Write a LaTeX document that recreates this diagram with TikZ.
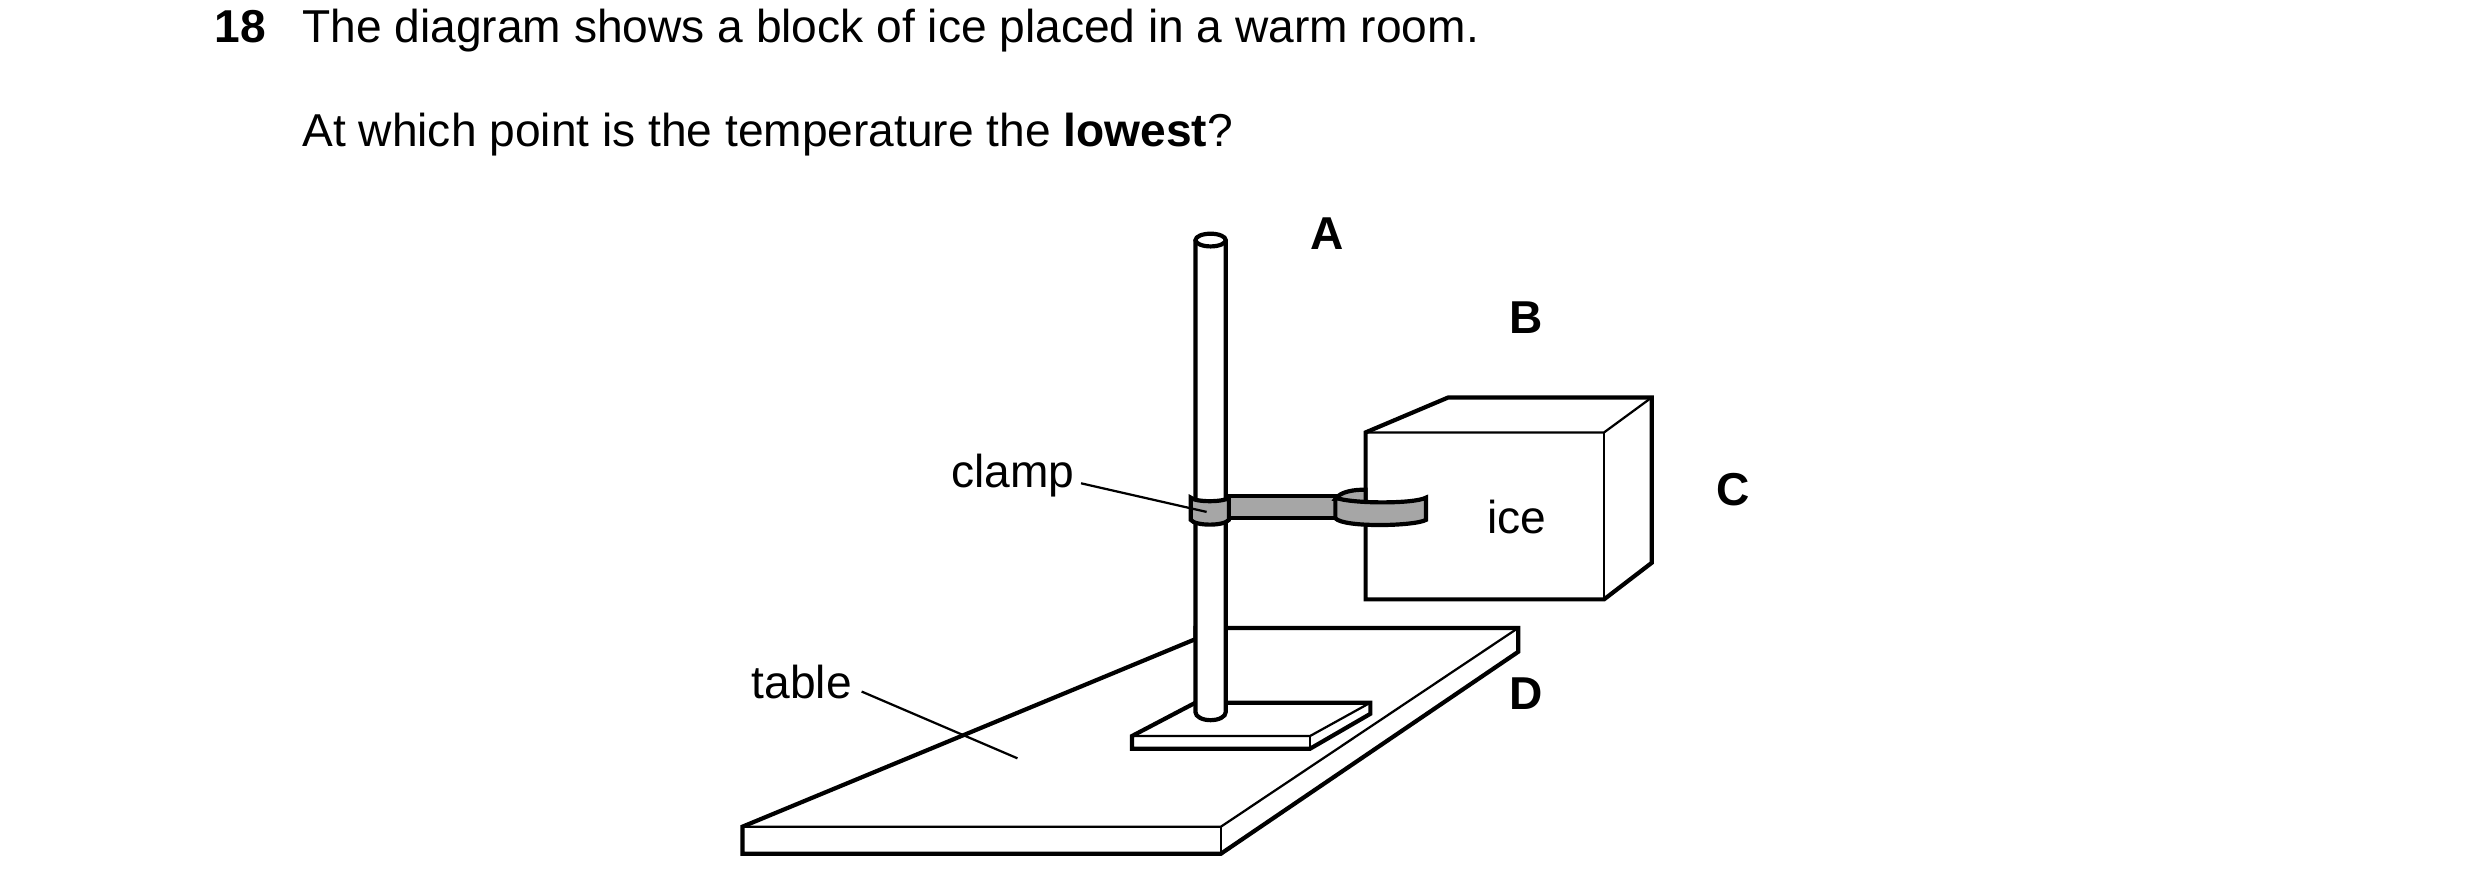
\documentclass[tikz,border=0pt]{standalone}
\usepackage{fontspec}
\setmainfont{Liberation Sans}
\tikzset{
  thick line/.style={line width=0.75pt, line join=miter},
  thin line/.style={line width=0.4pt},
  label text/.style={inner sep=1pt, font=\fontsize{8.25}{10}\selectfont},
  point/.style={inner sep=1pt, font=\fontsize{8.25}{10}\selectfont\bfseries},
  clamp part/.style={thick line, fill=black!35}
}
\begin{document}
\begin{tikzpicture}[x=0.01cm, y=-0.01cm]
    \useasboundingbox (0,0) rectangle (1560,560);

    % Question text
    \node[point, anchor=base west] (num) at (131,27) {18};
    \node[label text, anchor=base west] (line1) at (186,27) {The diagram shows a block of ice placed in a warm room.};
    \node[label text, anchor=base west] (line2) at (186,92) {At which point is the temperature the \textbf{lowest}?};

    % Table
    \draw[thick line, fill=white] (467,520) -- (752,402) -- (752,395) -- (955,395) -- (955,410) -- (768,537) -- (467,537) -- cycle;
    \draw[thin line] (467,520) -- (768,520) -- (955,395);
    \draw[thin line] (768,520) -- (768,537);

    % Base plate
    \draw[thick line, fill=white] (712,463) -- (752,442) -- (862,442) -- (862,449) -- (824,471) -- (712,471) -- cycle;
    \draw[thin line] (712,463) -- (824,463) -- (862,442);
    \draw[thin line] (824,463) -- (824,471);

    % Rod
    \draw[thick line, fill=white] (752,151) -- (752,448) arc[start angle=180, end angle=0, x radius=9.5, y radius=5] -- (771,151);
    \draw[thick line, fill=white] (761.5,151) ellipse[x radius=9.5, y radius=4];

    % Ice block
    \draw[thick line, fill=white] (859,272) -- (911,250) -- (1039,250) -- (1039,354) -- (1009,377) -- (859,377) -- cycle;
    \draw[thin line] (859,272) -- (1009,272) -- (1039,250);
    \draw[thin line] (1009,272) -- (1009,377);

    % Clamp
    \draw[clamp part] (773,312) rectangle (842,326);
    \draw[clamp part] (749,313) -- (749,327) .. controls (752,331) and (770,331) .. (773,327) -- (773,313) .. controls (770,316) and (752,316) .. (749,313) -- cycle;
    \draw[clamp part] (840,314) .. controls (843,309) and (852,308) .. (859,308) -- (859,317) -- cycle;
    \draw[clamp part] (840,313) -- (840,326) .. controls (845,332) and (890,331) .. (897,327) -- (897,313) .. controls (890,317) and (850,317) .. (840,313) -- cycle;

    % Labels
    \node[label text] (ice) at (954,325) {ice};
    \node[label text, anchor=east] (clamp) at (680,299) {clamp};
    \coordinate (clamp end) at (759,322);
    \draw[thin line] (clamp.east) ++(0,5) coordinate (clamp start) -- (clamp end);
    \node[label text, anchor=east] (table) at (540,429) {table};
    \coordinate (table end) at (640,477);
    \draw[thin line] (table.east) ++(2,6) coordinate (table start) -- (table end);

    % Points
    \node[point] (A) at (835,147) {A};
    \node[point] (B) at (960,200) {B};
    \node[point] (C) at (1090,308) {C};
    \node[point] (D) at (960,436) {D};
\end{tikzpicture}
\end{document}
